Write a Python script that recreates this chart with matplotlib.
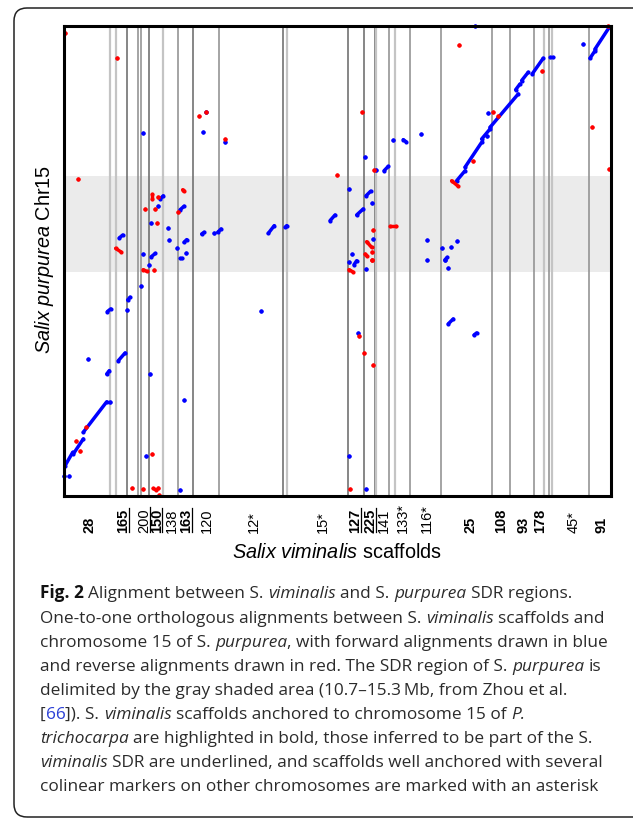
import numpy as np
import matplotlib
matplotlib.use("Agg")
import matplotlib.pyplot as plt
import matplotlib.transforms as mtransforms
from matplotlib.patches import FancyBboxPatch
from matplotlib.font_manager import FontProperties
from matplotlib.lines import Line2D

plt.rcParams["font.family"] = ["Liberation Sans", "DejaVu Sans"]
plt.rcParams["mathtext.fontset"] = "custom"
plt.rcParams["mathtext.rm"] = "Liberation Sans"
plt.rcParams["mathtext.it"] = "Liberation Sans:italic"
plt.rcParams["mathtext.bf"] = "Liberation Sans:bold"

# --- data: S. viminalis position (Mb, concatenated scaffolds) vs S. purpurea Chr15 (Mb) ---
# alignments as (x_start, y_start, x_end, y_end); single hits have start == end
fwd_hits = [
    (0.03, 0.96, 0.03, 0.96), (0.28, 0.96, 0.28, 0.96), (0.08, 1.44, 0.46, 2.08),
    (0.49, 2.00, 0.99, 2.72), (0.99, 3.04, 2.16, 4.50), (2.34, 4.48, 2.34, 4.48),
    (1.24, 6.56, 1.24, 6.56), (2.16, 5.83, 2.29, 5.99), (2.19, 8.82, 2.36, 8.95),
    (2.74, 6.47, 3.08, 6.84), (3.19, 8.91, 3.19, 8.91), (3.21, 9.38, 3.33, 9.51),
    (3.88, 10.03, 3.88, 10.03), (4.28, 11.07, 4.28, 11.07), (4.31, 5.83, 4.31, 5.83),
    (6.01, 4.59, 6.01, 4.59), (4.14, 1.89, 4.14, 1.89), (5.83, 0.29, 5.83, 0.29),
    (9.88, 8.84, 9.88, 8.84), (14.26, 11.18, 14.26, 11.18), (14.26, 1.89, 14.26, 1.89),
    (14.53, 11.07, 14.66, 11.26), (15.11, 10.85, 15.11, 10.85), (14.74, 7.80, 14.74, 7.80),
    (15.13, 0.34, 15.13, 0.34), (18.16, 11.28, 18.16, 11.28), (19.08, 11.29, 19.08, 11.29),
    (19.23, 10.91, 19.23, 10.91), (19.24, 8.23, 19.49, 8.47), (20.53, 7.70, 20.66, 7.80),
    (3.99, 17.38, 3.99, 17.38), (7.11, 18.37, 7.11, 18.37), (6.99, 17.41, 6.99, 17.41),
    (8.09, 16.93, 8.09, 16.93), (14.30, 14.70, 14.30, 14.70), (4.83, 14.22, 4.99, 14.37),
    (4.73, 13.87, 4.73, 13.87), (5.83, 13.70, 6.03, 13.87), (4.38, 13.05, 4.38, 13.05),
    (5.24, 12.81, 5.24, 12.81), (2.79, 12.35, 2.96, 12.49), (5.29, 12.25, 5.29, 12.25),
    (6.03, 12.14, 6.16, 12.27), (5.69, 11.85, 5.69, 11.85), (6.11, 11.63, 6.11, 11.63),
    (5.83, 11.39, 5.91, 11.39), (3.96, 11.57, 3.96, 11.57), (4.39, 11.45, 4.59, 11.61),
    (6.91, 12.54, 7.03, 12.62), (7.54, 12.57, 7.54, 12.57), (7.71, 12.62, 7.88, 12.78),
    (10.24, 12.57, 10.54, 12.94), (11.09, 12.86, 11.16, 12.94), (13.33, 13.18, 13.58, 13.45),
    (20.58, 22.49, 20.58, 22.49), (16.49, 17.06, 16.49, 17.06), (16.99, 17.06, 17.13, 16.96),
    (17.86, 17.33, 17.86, 17.33), (15.06, 16.24, 15.06, 16.24), (15.61, 15.62, 15.61, 15.62),
    (16.03, 15.57, 16.24, 15.78), (15.13, 14.37, 15.36, 14.59), (15.43, 14.02, 15.43, 14.02),
    (14.66, 13.45, 14.99, 13.74), (15.46, 12.30, 15.46, 12.30), (14.41, 11.58, 14.41, 11.58),
    (18.16, 12.25, 18.16, 12.25), (18.91, 11.87, 18.91, 11.87), (19.38, 11.93, 19.38, 11.93),
    (19.66, 12.19, 19.66, 12.19), (19.08, 11.31, 19.19, 11.42), (19.66, 15.09, 20.08, 15.57),
    (20.08, 15.74, 20.91, 16.93), (20.91, 17.09, 21.33, 17.57), (21.19, 17.25, 21.19, 17.25),
    (21.24, 18.32, 21.24, 18.32), (21.33, 17.65, 22.74, 19.25), (22.61, 19.45, 22.83, 19.73),
    (22.91, 19.89, 23.24, 20.29), (23.44, 20.21, 23.99, 20.96), (24.33, 21.01, 24.46, 21.01),
    (25.99, 21.64, 25.99, 21.64), (26.33, 20.96, 26.58, 21.32), (26.58, 21.40, 27.29, 22.44),
]
rev_hits = [
    (0.64, 2.61, 0.64, 2.61), (0.84, 2.13, 0.84, 2.13), (1.13, 3.28, 1.13, 3.28),
    (3.99, 10.83, 4.16, 10.75), (4.54, 10.83, 4.54, 10.83), (4.44, 2.00, 4.44, 2.00),
    (3.44, 0.35, 3.44, 0.35), (3.96, 0.32, 3.96, 0.32), (4.49, 0.35, 4.63, 0.27),
    (4.74, 0.35, 4.74, 0.35), (4.76, 0.02, 4.76, 0.02), (14.28, 10.83, 14.46, 10.73),
    (14.33, 0.32, 14.33, 0.32), (15.44, 11.28, 15.44, 11.28), (14.79, 7.67, 14.79, 7.67),
    (15.04, 6.82, 15.04, 6.82), (15.49, 6.26, 15.49, 6.26), (0.08, 22.17, 0.08, 22.17),
    (2.68, 20.96, 2.68, 20.96), (6.79, 18.19, 6.79, 18.19), (7.11, 18.37, 7.11, 18.37),
    (8.09, 17.09, 8.09, 17.09), (0.73, 15.19, 0.73, 15.19), (13.69, 15.38, 13.69, 15.38),
    (4.41, 14.46, 4.41, 14.22), (4.74, 14.33, 4.74, 14.33), (5.96, 14.66, 6.01, 14.60),
    (4.08, 13.72, 4.08, 13.72), (4.56, 13.74, 4.56, 13.74), (5.71, 13.61, 5.71, 13.61),
    (4.69, 13.05, 4.69, 13.05), (2.61, 11.85, 2.86, 11.69), (19.78, 21.61, 19.78, 21.61),
    (14.91, 18.40, 14.91, 18.40), (15.54, 15.61, 15.54, 15.61), (16.33, 12.94, 16.61, 12.94),
    (15.46, 12.73, 15.46, 12.73), (15.16, 12.17, 15.41, 11.90), (15.44, 11.66, 15.44, 11.66),
    (15.09, 11.58, 15.19, 11.47), (15.44, 11.31, 15.44, 11.31), (19.41, 15.09, 19.71, 14.85),
    (21.49, 18.37, 21.49, 18.37), (23.94, 20.34, 23.94, 20.34), (27.21, 22.49, 27.21, 22.49),
    (26.41, 17.65, 26.41, 17.65), (27.29, 15.65, 27.29, 15.65), (20.49, 16.05, 20.49, 16.05),
    (21.74, 18.21, 21.74, 18.21),
]

# scaffold boundaries and their line tone
bound_x = [2.33, 2.63, 3.19, 3.71, 3.86, 4.29, 4.99, 5.74, 6.49, 7.78, 10.99, 11.16,
           14.24, 15.04, 15.58, 15.63, 16.29, 16.58, 17.34, 18.88, 21.41, 22.34,
           23.54, 24.03, 24.29, 24.44, 26.26]
bound_tone = ["light", "light", "dark", "mid", "mid", "dark", "light", "mid", "dark", "mid",
              "dark", "light", "dark", "dark", "dark", "light", "mid", "light", "mid", "mid",
              "mid", "mid", "mid", "light", "mid", "light", "mid"]

# scaffold labels
lab_names = ["28", "165", "200", "150", "138", "163", "120", "12*", "15*", "127", "225",
             "141", "133*", "116*", "25", "108", "93", "178", "45*", "91"]
lab_x = [1.29, 2.99, 4.04, 4.66, 5.41, 6.13, 7.16, 9.53, 12.98, 14.58, 15.33,
         16.04, 16.99, 18.16, 20.33, 21.91, 22.99, 23.83, 25.49, 26.91]
lab_bold = ["28", "165", "150", "163", "127", "225", "25", "108", "93", "178", "91"]
lab_under = ["165", "200", "150", "163", "127", "225"]

sdr_span = (10.7, 15.3)
x_max, y_max = 27.38, 22.53

caption = [
    [("Fig. 2", "bold"), (" Alignment between S. ", "normal"), ("viminalis", "italic"),
     (" and S. ", "normal"), ("purpurea", "italic"), (" SDR regions.", "normal")],
    [("One-to-one orthologous alignments between S. ", "normal"), ("viminalis", "italic"),
     (" scaffolds and", "normal")],
    [("chromosome 15 of S. ", "normal"), ("purpurea", "italic"),
     (", with forward alignments drawn in blue", "normal")],
    [("and reverse alignments drawn in red. The SDR region of S. ", "normal"),
     ("purpurea", "italic"), (" is", "normal")],
    [("delimited by the gray shaded area (10.7\u201315.3\u2009Mb, from Zhou et al.", "normal")],
    [("[", "normal"), ("66", "link"), ("]). S. ", "normal"), ("viminalis", "italic"),
     (" scaffolds anchored to chromosome 15 of ", "normal"), ("P.", "italic")],
    [("trichocarpa", "italic"),
     (" are highlighted in bold, those inferred to be part of the S.", "normal")],
    [("viminalis", "italic"), (" SDR are underlined, and scaffolds well anchored with several", "normal")],
    [("colinear markers on other chromosomes are marked with an asterisk", "normal")],
]

W, H = 633, 820
fig = plt.figure(figsize=(W / 100, H / 100), dpi=100)
px = mtransforms.IdentityTransform()

# rounded frame around figure + caption
frame = FancyBboxPatch((14, H - 818), 640, 809, boxstyle="round,pad=0,rounding_size=13",
                       transform=px, fill=False, lw=1.1, ec="#222222")
fig.add_artist(frame)

ax = fig.add_axes([63.5 / W, (H - 496.7) / H, (611 - 63.5) / W, (496.7 - 26.5) / H])
ax.set_xlim(0, x_max)
ax.set_ylim(0, y_max)
ax.axhspan(*sdr_span, color="#ebebeb", lw=0, zorder=0)

tone_style = {"dark": ("#666666", 1.1), "mid": ("#8c8c8c", 1.1), "light": ("#c4c4c4", 1.6)}
for bx, tone in zip(bound_x, bound_tone):
    c, w = tone_style[tone]
    ax.axvline(bx, color=c, lw=w, zorder=1)

for hits, col, z in [(fwd_hits, "#0000ff", 3), (rev_hits, "#ff0000", 4)]:
    for x0, y0, x1, y1 in hits:
        ax.plot([x0, x1], [y0, y1], color=col, lw=2.5, marker="o", ms=3.0, mew=0,
                solid_capstyle="round", zorder=z, clip_on=False)

ax.set_xticks([])
ax.set_yticks([])
for s in ax.spines.values():
    s.set_linewidth(2.2)
    s.set_color("black")
    s.set_zorder(6)

# scaffold labels under the axis
trans = mtransforms.blended_transform_factory(ax.transData, ax.transAxes)
lab_texts = []
for name, lx in zip(lab_names, lab_x):
    t = ax.text(lx, -0.0772, name, transform=trans, rotation=90, ha="center", va="bottom",
                fontsize=10.5, fontweight="bold" if name in lab_bold else "normal")
    lab_texts.append(t)

fig.text(337, H - 553, r"$\mathit{Salix\ viminalis}$ scaffolds", transform=px,
         ha="center", va="center", fontsize=14.3)
fig.text(45, H - 260, r"$\mathit{Salix\ purpurea}$ Chr15", transform=px,
         ha="center", va="center", fontsize=14.3, rotation=90)

# underline the SDR scaffolds
fig.canvas.draw()
renderer = fig.canvas.get_renderer()
for t in lab_texts:
    if t.get_text() in lab_under:
        bb = t.get_window_extent(renderer)
        ux = bb.x1 - 1.5
        fig.add_artist(Line2D([ux, ux], [bb.y0, bb.y1], transform=px, color="black", lw=0.9))

# caption with mixed styles
cap_size = 12.4
cap_font = "Open Sans"


def seg_width(s, fp):
    w1, _, _ = renderer.get_text_width_height_descent("|" + s + "|", fp, ismath=False)
    w2, _, _ = renderer.get_text_width_height_descent("||", fp, ismath=False)
    return w1 - w2


for i, line in enumerate(caption):
    pen = 40
    base = H - (598.5 + i * 24.1)
    for txt, style in line:
        fp = FontProperties(family=cap_font, size=cap_size,
                            weight="bold" if style == "bold" else "normal",
                            style="italic" if style == "italic" else "normal")
        col = {"bold": "#111111", "link": "#2a3fd6"}.get(style, "#2b2b2b")
        lead = txt[:len(txt) - len(txt.lstrip(" "))]
        body = txt.strip(" ")
        off = seg_width(lead, fp) if lead else 0
        if body:
            fig.text(pen + off, base, body, transform=px, fontproperties=fp,
                     ha="left", va="baseline", color=col)
        pen += seg_width(txt, fp)

fig.savefig("out.png", dpi=100)
